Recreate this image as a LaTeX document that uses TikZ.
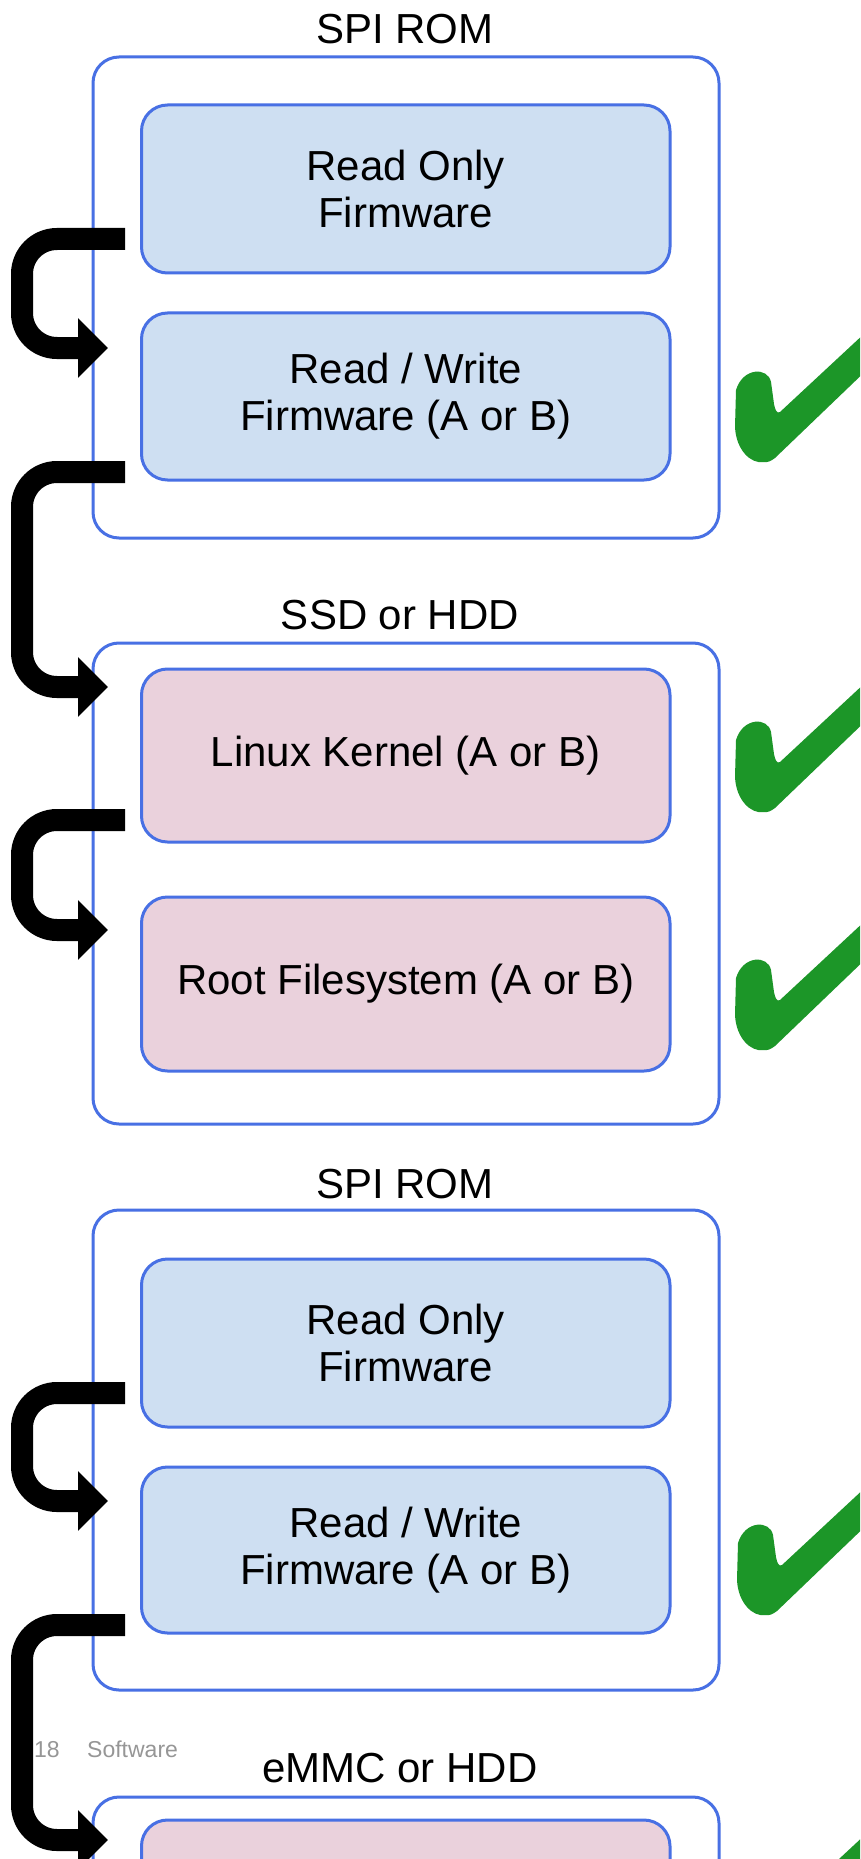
\documentclass[tikz,border=0pt]{standalone}
\usepackage{fontspec}
\setmainfont{Liberation Sans}
\usetikzlibrary{arrows.meta}
\definecolor{bord}{RGB}{72,112,228}
\definecolor{fwfill}{RGB}{206,223,242}
\definecolor{osfill}{RGB}{234,209,220}
\definecolor{chkgreen}{RGB}{28,150,40}
\definecolor{foot}{RGB}{150,150,150}
\newcommand\checkmk[1]{%
  \fill[chkgreen, shift={(#1)}] (0,0) .. controls (4,1) and (8,-1) .. (12,-4)
    -- (160,-146) -- (160,-183) -- (17,-50)
    .. controls (14,-48) and (12,-52) .. (11,-58) -- (8,-80)
    .. controls (5,-95) and (-20,-95) .. (-27,-72) -- (-28,-35)
    .. controls (-27,-12) and (-12,2) .. (0,0) -- cycle;}
\begin{document}
\begin{tikzpicture}[x=1pt,y=-1pt,
  outerbox/.style={draw=bord, line width=3pt, rounded corners=26pt, fill=white, minimum width=626pt},
  fwbox/.style={draw=bord, line width=3pt, rounded corners=26pt, fill=fwfill, align=center,
     minimum width=528.5pt, font=\fontsize{42}{47}\selectfont},
  osbox/.style={fwbox, fill=osfill},
  boxtitle/.style={anchor=base, font=\fontsize{42}{47}\selectfont, inner sep=0pt},
  flow/.style={line width=22pt, rounded corners=35pt, -{Triangle[length=30pt,width=58pt]}},
  pagefoot/.style={anchor=base west, font=\fontsize{23}{26}\selectfont, text=foot, inner sep=0pt}]
\useasboundingbox (0,0) rectangle (860,1859);
\clip (0,0) rectangle (860,1859);
\fill[white] (0,0) rectangle (860,1859);

% outer containers
\node[outerbox, minimum height=481pt] (rom1) at (406,297.5) {};
\node[outerbox, minimum height=481pt] (disk1) at (406,883.5) {};
\node[outerbox, minimum height=480pt] (rom2) at (406,1450) {};
\node[outerbox, minimum height=303pt] (disk2) at (406,1948.5) {};

% titles
\node[boxtitle] (t1) at (405,44) {SPI ROM};
\node[boxtitle] (t2) at (400,629) {SSD or HDD};
\node[boxtitle] (t3) at (405,1198) {SPI ROM};
\node[boxtitle] (t4) at (400,1782) {eMMC or HDD};

% inner boxes
\node[fwbox, minimum height=168pt] (ro1) at (405.75,189) {Read Only\\Firmware};
\node[fwbox, minimum height=167pt] (rw1) at (405.75,396.5) {Read / Write\\Firmware (A or B)};
\node[osbox, minimum height=173pt] (lk) at (405.75,755.5) {Linux Kernel (A or B)};
\node[osbox, minimum height=174pt] (rf) at (405.75,984) {Root Filesystem (A or B)};
\node[fwbox, minimum height=168pt] (ro2) at (405.75,1343) {Read Only\\Firmware};
\node[fwbox, minimum height=166pt] (rw2) at (405.75,1550) {Read / Write\\Firmware (A or B)};
\node[osbox, minimum height=180pt] (p4) at (405.75,1910) {};

% footer
\node[pagefoot] (pgnum) at (34,1757) {18};
\node[pagefoot] (pgsec) at (87,1757) {Software};

% connector end points
\coordinate (a1s) at (125,239);  \coordinate (a1e) at (108,348);
\coordinate (a2s) at (125,472);  \coordinate (a2e) at (108,687);
\coordinate (a3s) at (125,820);  \coordinate (a3e) at (108,930);
\coordinate (a4s) at (125,1393); \coordinate (a4e) at (108,1501);
\coordinate (a5s) at (125,1625); \coordinate (a5e) at (108,1840);

\draw[flow] (a1s) -- (22,239) -- (22,348) -- (a1e);
\draw[flow] (a2s) -- (22,472) -- (22,687) -- (a2e);
\draw[flow] (a3s) -- (22,820) -- (22,930) -- (a3e);
\draw[flow] (a4s) -- (22,1393) -- (22,1501) -- (a4e);
\draw[flow] (a5s) -- (22,1625) -- (22,1840) -- (a5e);

% check marks
\checkmk{763,462}
\checkmk{763,812}
\checkmk{763,1050}
\checkmk{765,1615}
\checkmk{765,1962}
\end{tikzpicture}
\end{document}
